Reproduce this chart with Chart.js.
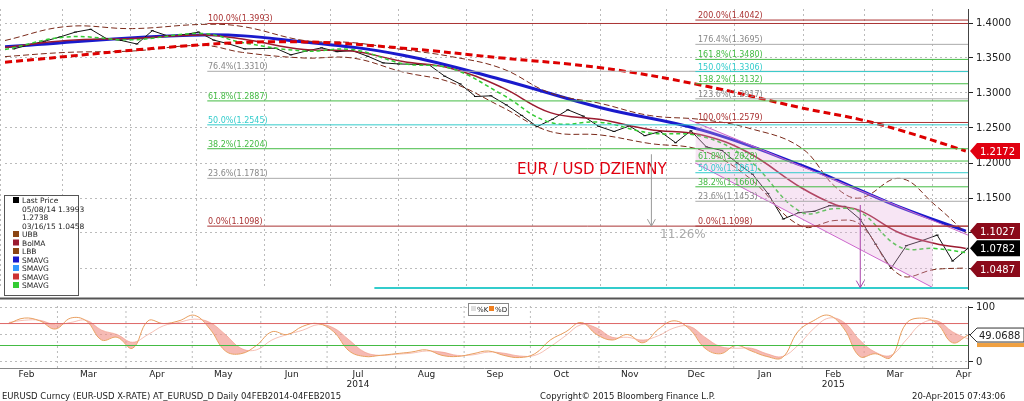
<!DOCTYPE html>
<html><head><meta charset="utf-8">
<script src="https://cdn.jsdelivr.net/npm/chart.js@4"></script>
<style>
body{margin:0;background:#fff;width:1024px;height:401px;overflow:hidden;font-family:"DejaVu Sans",sans-serif;position:relative}
#c1{position:absolute;left:0;top:0}
#c2{position:absolute;left:0;top:297px}
.ft{position:absolute;top:391px;font-size:8.5px;color:#222;white-space:nowrap}
</style></head><body>
<canvas id="c1" width="1024" height="298"></canvas>
<canvas id="c2" width="1024" height="95"></canvas>
<div class="ft" style="left:2px">EURUSD Curncy (EUR-USD X-RATE) AT_EURUSD_D  Daily 04FEB2014-04FEB2015</div>
<div class="ft" style="left:540px">Copyright© 2015 Bloomberg Finance L.P.</div>
<div class="ft" style="left:912px">20-Apr-2015 07:43:06</div>
<script>
// ---- data ----
const weekDays=[6,13,20,27,34,41,48,55,62,69,76,83,90,97,104,111,118,125,132,139,146,153,160,167,174,181,188,195,202,209,216,223,230,237,244,251,258,265,272,279,286,293,300,307,314,321,328,335,342,349,356,363,370,377,384,391,398,405,412,419,426,433,440];
const closes=[1.3630,1.3690,1.3740,1.3800,1.3870,1.3910,1.3780,1.3750,1.3700,1.3890,1.3815,1.3830,1.3870,1.3755,1.3700,1.3630,1.3635,1.3640,1.3545,1.3600,1.3645,1.3590,1.3605,1.3525,1.3430,1.3415,1.3410,1.3400,1.3240,1.3130,1.2950,1.2960,1.2830,1.2680,1.2520,1.2625,1.2760,1.2670,1.2525,1.2450,1.2530,1.2390,1.2450,1.2290,1.2460,1.2230,1.2180,1.2000,1.1840,1.1565,1.1200,1.1290,1.1310,1.1390,1.1380,1.1195,1.0840,1.0495,1.0820,1.0890,1.0970,1.0600,1.0782];
const maDays=[2,92,138,183,228,273,319,364,391,409,439];
const smaBlue=[1.366,1.383,1.373,1.354,1.319,1.279,1.247,1.197,1.161,1.137,1.1027];
const smaRed=[1.344,1.369,1.373,1.364,1.350,1.336,1.311,1.279,1.262,1.247,1.2172];
const bbDays=[2,30,60,92,110,138,160,183,205,228,250,273,295,319,340,364,380,391,409,425,439];
const bolMA=[1.365,1.375,1.378,1.383,1.377,1.362,1.360,1.345,1.335,1.308,1.272,1.262,1.248,1.240,1.215,1.165,1.140,1.132,1.100,1.085,1.078];
const ubb=[1.375,1.395,1.392,1.398,1.395,1.375,1.372,1.362,1.352,1.335,1.300,1.285,1.268,1.262,1.250,1.222,1.165,1.150,1.178,1.140,1.100];
const lbb=[1.352,1.358,1.360,1.368,1.358,1.350,1.350,1.330,1.315,1.280,1.245,1.240,1.228,1.218,1.180,1.110,1.118,1.112,1.040,1.048,1.050];
const smaGreen=[1.362,1.380,1.376,1.385,1.372,1.360,1.362,1.342,1.335,1.298,1.258,1.258,1.243,1.238,1.205,1.130,1.135,1.130,1.080,1.078,1.072];
const stochK=[70,80,75,60,80,75,40,45,25,75,70,75,85,60,20,15,30,55,50,65,70,55,20,10,12,15,18,22,12,10,15,20,12,8,15,40,55,72,50,40,50,35,60,75,60,25,15,30,20,10,8,55,75,85,60,10,15,8,70,80,70,35,49];
const stochD=[72,76,76,68,72,76,58,50,36,50,66,72,78,72,50,25,22,40,50,58,68,62,40,18,12,14,16,20,18,12,13,18,16,11,12,28,48,68,62,45,45,40,48,62,65,45,28,25,25,15,10,30,60,80,72,40,18,12,40,70,75,55,42];
const monthStarts=[0,28,59,89,120,150,181,212,242,273,303,334,365,393,424];
const monthMids=[14,42,73,103,134,164,195,226,256,287,317,348,379,407,438];
const monthLabels=['Feb','Mar','Apr','May','Jun','Jul','Aug','Sep','Oct','Nov','Dec','Jan','Feb','Mar','Apr'];
const yTicks=[1.05,1.10,1.15,1.20,1.25,1.30,1.35,1.40];
const fibLeft=[[1.3993,'100.0%(1.3993)','#a33'],[1.3310,'76.4%(1.3310)','#aaa'],[1.2887,'61.8%(1.2887)','#4b4'],[1.2545,'50.0%(1.2545)','#3cc'],[1.2204,'38.2%(1.2204)','#4b4'],[1.1781,'23.6%(1.1781)','#aaa'],[1.1098,'0.0%(1.1098)','#a33']];
const fibRight=[[1.4042,'200.0%(1.4042)','#a33'],[1.3695,'176.4%(1.3695)','#aaa'],[1.3480,'161.8%(1.3480)','#4b4'],[1.3306,'150.0%(1.3306)','#3cc'],[1.3132,'138.2%(1.3132)','#4b4'],[1.2917,'123.6%(1.2917)','#aaa'],[1.2579,'100.0%(1.2579)','#a33'],[1.2028,'61.8%(1.2028)','#4b4'],[1.1861,'50.0%(1.1861)','#3cc'],[1.1660,'38.2%(1.1660)','#4b4'],[1.1453,'23.6%(1.1453)','#aaa'],[1.1098,'0.0%(1.1098)','#a33']];
const chanUpper=[[313,1.262],[440,1.097]];
const chanLower=[[316,1.200],[424,1.022]];
const lastBoxes=[[1.2172,'1.2172','#e00010','#fff'],[1.1027,'1.1027','#8b0a1a','#fff'],[1.0782,'1.0782','#000','#fff'],[1.0487,'1.0487','#8b0a1a','#fff']];

const pts=(xs,ys)=>xs.map((x,i)=>({x:x,y:ys[i]}));
const XMIN=2,XMAX=440;
const xScale={type:'linear',min:XMIN,max:XMAX,afterBuildTicks:s=>{s.ticks=monthStarts.map(v=>({value:v}));},
  ticks:{display:false},grid:{color:'#bbb',drawTicks:false},border:{display:false,dash:[2,3]}};
const rightFit=s=>{s.width=56;};

const overlay={id:'ov',afterDatasetsDraw(ch){
  const c=ch.ctx,x=ch.scales.x,y=ch.scales.y,a=ch.chartArea;
  c.save();c.font='8px "DejaVu Sans"';
  const hl=(set,sx,lx)=>set.forEach(f=>{const py=y.getPixelForValue(f[0]);
    c.strokeStyle=f[2];c.lineWidth=1;c.setLineDash([]);c.beginPath();c.moveTo(x.getPixelForValue(sx),py);c.lineTo(a.right,py);c.stroke();
    c.fillStyle=f[2]==='#aaa'?'#888':f[2];c.fillText(f[1],lx,py-2);});
  hl(fibLeft,94,208);hl(fibRight,316,698);
  let py=y.getPixelForValue(1.0215);c.strokeStyle='#3cc';c.lineWidth=2;c.beginPath();c.moveTo(x.getPixelForValue(170),py);c.lineTo(a.right,py);c.stroke();
  c.fillStyle='#e00010';c.font='15px "DejaVu Sans"';c.fillText('EUR / USD DZIENNY',517,174);
  c.fillStyle='#aaa';c.font='12px "DejaVu Sans"';c.fillText('11.26%',660,238);
  const arrow=(d,v1,v2,col)=>{const ax=x.getPixelForValue(d),y1=y.getPixelForValue(v1),y2=y.getPixelForValue(v2);
    c.strokeStyle=col;c.lineWidth=1;c.beginPath();c.moveTo(ax,y1);c.lineTo(ax,y2);c.stroke();
    c.beginPath();c.moveTo(ax-4,y2-7);c.lineTo(ax,y2);c.lineTo(ax+4,y2-7);c.stroke();};
  arrow(296,1.2125,1.1098,'#999');arrow(391,1.14,1.022,'#a4a');
  c.font='10px "DejaVu Sans"';
  lastBoxes.forEach(b=>{const by=y.getPixelForValue(b[0]);c.fillStyle=b[2];
    c.beginPath();c.moveTo(a.right+2,by);c.lineTo(a.right+9,by-8);c.lineTo(a.right+52,by-8);c.lineTo(a.right+52,by+8);c.lineTo(a.right+9,by+8);c.closePath();c.fill();
    c.fillStyle=b[3];c.fillText(b[1],a.right+12,by+4);});
  c.fillStyle='#fff';c.strokeStyle='#555';c.lineWidth=1;c.fillRect(4,195,74,100);c.strokeRect(4.5,195.5,74,100);
  const items=[['Last Price','#000'],['05/08/14 1.3993',null],['1.2738',null],['03/16/15 1.0458',null],['UBB','#8b4513'],['BolMA','#9b1b30'],['LBB','#8b4513'],['SMAVG','#1a1acc'],['SMAVG','#3399ff'],['SMAVG','#c33'],['SMAVG','#3c3']];
  c.font='7.5px "DejaVu Sans"';
  items.forEach((it,i)=>{const iy=202+i*8.5;if(it[1]){c.fillStyle=it[1];c.fillRect(13,iy-5,6,6);}
    c.fillStyle='#222';c.fillText(it[0],22,iy+1);});
  c.restore();}};

new Chart(document.getElementById('c1'),{
 data:{datasets:[
  {type:'line',data:chanUpper.map(p=>({x:p[0],y:p[1]})),borderColor:'#c6c',borderWidth:1,pointRadius:0,fill:false},
  {type:'line',data:chanLower.map(p=>({x:p[0],y:p[1]})),borderColor:'#c6c',borderWidth:1,pointRadius:0,fill:{target:0},backgroundColor:'rgba(230,170,220,0.3)'},
  {type:'line',data:pts(maDays,smaRed),borderColor:'#d00',borderWidth:3,borderDash:[7,4],pointRadius:0,tension:0.4},
  {type:'line',data:pts(bbDays,ubb),borderColor:'#7a2a1a',borderWidth:1,borderDash:[6,3],pointRadius:0,tension:0.4},
  {type:'line',data:pts(bbDays,lbb),borderColor:'#7a2a1a',borderWidth:1,borderDash:[6,3],pointRadius:0,tension:0.4},
  {type:'line',data:pts(bbDays,smaGreen),borderColor:'#3c3',borderWidth:1.5,borderDash:[4,3],pointRadius:0,tension:0.4},
  {type:'line',data:pts(bbDays,bolMA),borderColor:'#9b1b30',borderWidth:1.5,pointRadius:0,tension:0.4},
  {type:'line',data:pts(weekDays,closes),borderColor:'#111',borderWidth:1,pointRadius:1.5,pointStyle:'line',pointBorderColor:'#111',tension:0},
  {type:'line',data:pts(maDays,smaBlue),borderColor:'#1a1acc',borderWidth:3,pointRadius:0,tension:0.4}
 ]},
 options:{responsive:false,animation:false,events:[],layout:{padding:{top:0,bottom:0,left:0,right:0}},
  plugins:{legend:{display:false},tooltip:{enabled:false}},
  scales:{x:xScale,
   y:{position:'right',min:1.02,max:1.42,afterFit:rightFit,afterBuildTicks:s=>{s.ticks=yTicks.map(v=>({value:v}));},
     ticks:{color:'#222',font:{size:10,family:'DejaVu Sans'},callback:v=>(v<1.12?'':v.toFixed(4))},
     grid:{color:'#bbb',tickColor:'#222',tickLength:5},border:{color:'#444',dash:[2,3]}}}},
 plugins:[overlay]});

const ov2={id:'ov2',afterDatasetsDraw(ch){const c=ch.ctx,y=ch.scales.y,a=ch.chartArea;c.save();
  [[70,'#d66'],[30,'#4b4']].forEach(l=>{const py=y.getPixelForValue(l[0]);c.strokeStyle=l[1];c.lineWidth=1;c.beginPath();c.moveTo(a.left,py);c.lineTo(a.right,py);c.stroke();});
  c.strokeStyle='#555';c.lineWidth=2;c.beginPath();c.moveTo(0,1.5);c.lineTo(1024,1.5);c.stroke();
  c.lineWidth=1;c.fillStyle='#fff';c.strokeStyle='#888';c.fillRect(468,6,40,12);c.strokeRect(468.5,6.5,40,12);
  c.font='7px "DejaVu Sans"';c.fillStyle='#ddd';c.fillRect(471,9,5,5);c.fillStyle='#222';c.fillText('%K',477,15);
  c.fillStyle='#f08020';c.fillRect(489,9,5,5);c.fillStyle='#222';c.fillText('%D',495,15);
  const by=y.getPixelForValue(49.07);c.fillStyle='#fff';c.strokeStyle='#333';
  c.beginPath();c.moveTo(a.right+2,by);c.lineTo(a.right+9,by-7);c.lineTo(a.right+56,by-7);c.lineTo(a.right+56,by+7);c.lineTo(a.right+9,by+7);c.closePath();c.fill();c.stroke();
  c.fillStyle='#222';c.font='10px "DejaVu Sans"';c.fillText('49.0688',a.right+11,by+4);
  c.fillStyle='#f0a040';c.fillRect(a.right+9,by+8,47,4);
  c.restore();}};

new Chart(document.getElementById('c2'),{
 data:{datasets:[
  {type:'line',data:pts(weekDays,stochK),borderColor:'#e8a060',borderWidth:1,pointRadius:0,tension:0.4,fill:false},
  {type:'line',data:pts(weekDays,stochD),borderColor:'rgba(240,150,130,0.6)',borderWidth:1,pointRadius:0,tension:0.4,
   fill:{target:0,above:'rgba(240,140,130,0.6)',below:'rgba(0,0,0,0)'}}
 ]},
 options:{responsive:false,animation:false,events:[],layout:{padding:{top:1,bottom:0}},
  plugins:{legend:{display:false},tooltip:{enabled:false}},
  scales:{x:{type:'linear',min:XMIN,max:XMAX,afterFit:s=>{s.height=24;},afterBuildTicks:s=>{s.ticks=monthMids.map(v=>({value:v}));},
     ticks:{autoSkip:false,maxRotation:0,padding:2,color:'#222',font:{size:9,family:'DejaVu Sans',lineHeight:1.1},
       callback:(v)=>{const i=monthMids.indexOf(v);const l=monthLabels[i];return i===5?[l,'2014']:i===12?[l,'2015']:l;}},
     grid:{display:false,drawTicks:false},border:{color:'#888'}},
   y:{position:'right',min:-11,max:102,afterFit:rightFit,afterBuildTicks:s=>{s.ticks=[{value:0},{value:50},{value:100}];},
     ticks:{color:'#222',font:{size:10,family:'DejaVu Sans'},callback:v=>v===50?'':v},grid:{color:'#bbb',tickColor:'#222',tickLength:5},border:{color:'#444',dash:[2,3]}}}},
 plugins:[ov2,{id:'vg',beforeDatasetsDraw(ch){const c=ch.ctx,x=ch.scales.x,a=ch.chartArea;c.save();c.strokeStyle='#bbb';c.setLineDash([2,3]);
   monthStarts.forEach(d=>{if(d<XMIN)return;const px=x.getPixelForValue(d);c.beginPath();c.moveTo(px,a.top);c.lineTo(px,a.bottom);c.stroke();});c.restore();}}]});
</script></body></html>
